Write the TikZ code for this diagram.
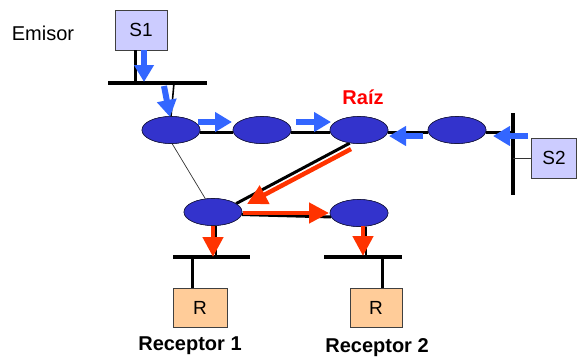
\documentclass[tikz,border=0pt]{standalone}
\usepackage{fontspec}
\setmainfont{Liberation Sans}
\usetikzlibrary{shapes.geometric,arrows.meta}
\definecolor{nodeblue}{HTML}{3333CC}
\definecolor{nodeedge}{HTML}{1A1A40}
\definecolor{arrblue}{HTML}{3366FF}
\definecolor{arrred}{HTML}{FF3300}
\definecolor{sfill}{HTML}{CCCCFF}
\definecolor{rfill}{HTML}{FFCC99}
\tikzset{
  rnode/.style={ellipse, draw=nodeedge, line width=0.6pt, fill=nodeblue, minimum width=58pt, minimum height=27pt, inner sep=0pt},
  hostbox/.style={draw=black!75, line width=0.8pt, inner sep=0pt, font=\fontsize{19}{22}\selectfont},
  lbl/.style={font=\fontsize{20}{23}\selectfont},
  blbl/.style={font=\fontsize{20}{23}\selectfont\bfseries},
  bus/.style={line width=3.4pt, black},
  link/.style={line width=3pt, black},
  thinlink/.style={line width=0.7pt, black!80},
  barrow/.style={arrblue, line width=6pt, -{Triangle[length=17pt,width=19pt]}},
  rarrow/.style={arrred, line width=4.5pt, -{Triangle[length=20pt,width=20pt]}},
}
\begin{document}
\begin{tikzpicture}[x=1pt,y=-1pt]
\useasboundingbox (0,0) rectangle (577,359);
% hosts
\node[hostbox, fill=sfill, minimum width=52pt, minimum height=40pt] (s1) at (141,30) {S1};
\node[hostbox, fill=sfill, minimum width=45pt, minimum height=40pt] (s2) at (554,158) {S2};
\node[hostbox, fill=rfill, minimum width=54pt, minimum height=39pt] (r1) at (200,307.5) {R};
\node[hostbox, fill=rfill, minimum width=52pt, minimum height=39pt] (r2) at (376,307.5) {R};
% buses
\coordinate (b1a) at (108,83); \coordinate (b1b) at (207,83);
\coordinate (b2a) at (513,113); \coordinate (b2b) at (513,195);
\coordinate (b3a) at (173,257); \coordinate (b3b) at (250,257);
\coordinate (b4a) at (324,257); \coordinate (b4b) at (402,257);
\draw[bus] (b1a) -- (b1b);
\draw[bus] (b2a) -- (b2b);
\draw[bus] (b3a) -- (b3b);
\draw[bus] (b4a) -- (b4b);
% routers
\node[rnode] (e1) at (171,130) {};
\node[rnode] (e2) at (262,130) {};
\node[rnode] (e3) at (359,130) {};
\node[rnode] (e4) at (457,130) {};
\node[rnode] (e5) at (213,212) {};
\node[rnode] (e6) at (359,213) {};
% links
\draw[link] ([xshift=-6pt]s1.south) -- ([xshift=-6pt]s1.south |- b1a);
\draw[line width=1.6pt] (174,83) -- (e1.north);
\draw[link] (e1.east |- 0,132) -- (e2.west |- 0,132);
\draw[link] (e2.east |- 0,132) -- (e3.west |- 0,132);
\draw[link] (e3.east |- 0,132) -- (e4.west |- 0,132);
\draw[link] (e4.east |- 0,132) -- (b2a |- 0,132);
\draw[thinlink] (b2a |- s2) -- (s2.west);
\draw[link] (e3.-125) -- (e5.20);
\draw[thinlink] (e1.-85) -- (e5.120);
\draw[link] (e5.-5) -- (e6.-172);
\draw[line width=1.8pt] ([xshift=3pt]e5.south) -- ([xshift=3pt]e5.south |- b3a);
\draw[line width=1.8pt] ([xshift=7pt]e6.south) -- ([xshift=7pt]e6.south |- b4a);
\draw[link] (r1.north -| 192,0) -- (192,257);
\draw[link] (r2.north -| 382,0) -- (382,257);
% redraw routers on top
\node[rnode] at (e1) {};
\node[rnode] at (e2) {};
\node[rnode] at (e3) {};
\node[rnode] at (e4) {};
\node[rnode] at (e5) {};
\node[rnode] at (e6) {};
% blue arrows
\draw[barrow] (144,50) -- (144,82);
\draw[barrow] (164,86) -- (170,117);
\draw[barrow] (198,122) -- (232,122);
\draw[barrow] (296,122) -- (331,122);
\draw[barrow] (423,136) -- (389,136);
\draw[barrow] (528,136) -- (493,136);
% red arrows
\draw[rarrow] (351,149) -- (247,204);
\draw[rarrow] (243,213) -- (329,213);
\draw[rarrow] (213,226) -- (213,257);
\draw[rarrow] (363,226) -- (363,256);
% labels
\node[lbl] (emisor) at (43,33) {Emisor};
\node[blbl, text=red] (raiz) at (363,97) {Raíz};
\node[blbl] (rec1) at (190,346) {Receptor 1};
\node[blbl] (rec2) at (377,348) {Receptor 2};
\end{tikzpicture}
\end{document}
